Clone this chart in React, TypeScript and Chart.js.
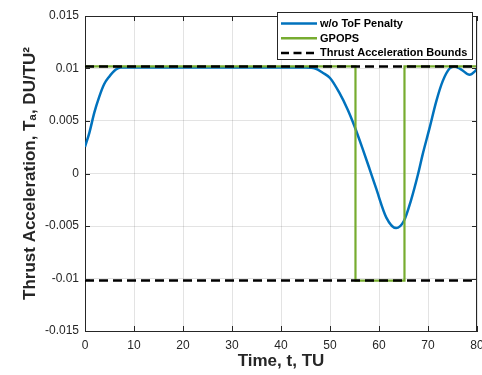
import React, { useEffect, useRef } from "react";
import { Chart, registerables } from "chart.js";

Chart.register(...registerables);

// ---- data ----
const timeNoPenalty = [0, 0.9, 1.9, 2.9, 3.9, 4.9, 6.3, 7.3, 9, 20, 40, 45, 47, 48.5, 50, 51.9, 53.6, 55, 56.7, 58.1, 59.4, 61.5, 63.5, 65.1, 66.5, 68.0, 68.9, 70.3, 71.7, 73.0, 74.4, 75.4, 76.8, 78.5, 79.5, 80];
const accelNoPenalty = [0.00254, 0.0039, 0.0058, 0.0073, 0.0085, 0.0092, 0.0099, 0.0101, 0.0101, 0.0101, 0.0101, 0.0101, 0.01, 0.0096, 0.0091, 0.0077, 0.0061, 0.0045, 0.0023, 0.0004, -0.0014, -0.0042, -0.0052, -0.0045, -0.0026, 0, 0.0018, 0.0043, 0.0069, 0.0088, 0.01, 0.0102, 0.0099, 0.0094, 0.0097, 0.01];

const timeGpops = [0, 55.2, 55.2, 65.2, 65.2, 80];
const accelGpops = [0.0102, 0.0102, -0.0102, -0.0102, 0.0102, 0.0102];

const boundTime = [0, 80];
const upperBound = [0.0102, 0.0102];
const lowerBound = [-0.0102, -0.0102];

const xTickValues = [0, 10, 20, 30, 40, 50, 60, 70, 80];
const xTickLabels = ["0", "10", "20", "30", "40", "50", "60", "70", "80"];
const yTickValues = [-0.015, -0.01, -0.005, 0, 0.005, 0.01, 0.015];
const yTickLabels = ["-0.015", "-0.01", "-0.005", "0", "0.005", "0.01", "0.015"];

const legendLabels = ["w/o ToF Penalty", "GPOPS", "Thrust Acceleration Bounds"];
const xTitle = "Time, t, TU";

const BLUE = "#0072BD";
const GREEN = "#77AC30";
const BLACK = "#000000";
const AXIS = "#262626";
const FONT = "'Liberation Sans', Arial, Helvetica, sans-serif";

const toPoints = (xs: number[], ys: number[]) => xs.map((x, i) => ({ x, y: ys[i] }));

const boxPlugin = {
  id: "matlabBox",
  afterDraw(chart: any) {
    const { ctx, chartArea } = chart;
    const { left, right, top, bottom } = chartArea;
    const xs = chart.scales.x;
    const ys = chart.scales.y;
    ctx.save();
    ctx.strokeStyle = AXIS;
    ctx.lineWidth = 1;
    // box
    ctx.beginPath();
    ctx.moveTo(left, top + 0.5);
    ctx.lineTo(right, top + 0.5);
    ctx.moveTo(right - 0.5, top);
    ctx.lineTo(right - 0.5, bottom);
    ctx.stroke();
    // inward ticks
    const tl = 5;
    ctx.beginPath();
    xTickValues.forEach((v) => {
      const px = Math.round(xs.getPixelForValue(v)) + 0.5;
      ctx.moveTo(px, bottom);
      ctx.lineTo(px, bottom - tl);
      ctx.moveTo(px, top);
      ctx.lineTo(px, top + tl);
    });
    yTickValues.forEach((v) => {
      const py = Math.round(ys.getPixelForValue(v)) + 0.5;
      ctx.moveTo(left, py);
      ctx.lineTo(left + tl, py);
      ctx.moveTo(right, py);
      ctx.lineTo(right - tl, py);
    });
    ctx.stroke();

    // legend
    const x0 = 277.5, y0 = 12.5, w = 195, h = 47;
    ctx.fillStyle = "#ffffff";
    ctx.fillRect(x0, y0, w, h);
    ctx.strokeStyle = AXIS;
    ctx.lineWidth = 1;
    ctx.strokeRect(x0, y0, w, h);
    const rows = [
      { color: BLUE, dash: [] as number[], width: 2.5 },
      { color: GREEN, dash: [] as number[], width: 2.5 },
      { color: BLACK, dash: [8, 4.5], width: 2.5 },
    ];
    ctx.font = `bold 11px ${FONT}`;
    ctx.textBaseline = "middle";
    ctx.textAlign = "left";
    rows.forEach((r, i) => {
      const yy = 23.5 + i * 14.7;
      ctx.beginPath();
      ctx.setLineDash(r.dash);
      ctx.strokeStyle = r.color;
      ctx.lineWidth = r.width;
      ctx.moveTo(281, yy);
      ctx.lineTo(317, yy);
      ctx.stroke();
      ctx.setLineDash([]);
      ctx.fillStyle = "#000000";
      ctx.fillText(legendLabels[i], 320, yy + 0.5);
    });
    ctx.restore();
  },
};

export default function App() {
  const ref = useRef<HTMLCanvasElement | null>(null);
  useEffect(() => {
    if (!ref.current) return;
    const chart = new Chart(ref.current, {
      type: "line",
      data: {
        datasets: [
          {
            label: legendLabels[0],
            data: toPoints(timeNoPenalty, accelNoPenalty),
            borderColor: BLUE,
            borderWidth: 2.5,
            pointRadius: 0,
            cubicInterpolationMode: "monotone",
            fill: false,
            order: 3,
          },
          {
            label: legendLabels[1],
            data: toPoints(timeGpops, accelGpops),
            borderColor: GREEN,
            borderWidth: 2.2,
            pointRadius: 0,
            tension: 0,
            fill: false,
            order: 2,
          },
          {
            label: legendLabels[2],
            data: toPoints(boundTime, upperBound),
            borderColor: BLACK,
            borderWidth: 2.5,
            borderDash: [9, 5],
            pointRadius: 0,
            fill: false,
            order: 1,
          },
          {
            label: legendLabels[2] + " (lower)",
            data: toPoints(boundTime, lowerBound),
            borderColor: BLACK,
            borderWidth: 2.5,
            borderDash: [9, 5],
            pointRadius: 0,
            fill: false,
            order: 1,
          },
        ],
      },
      options: {
        responsive: false,
        animation: false,
        devicePixelRatio: 1,
        layout: { padding: { left: 0, right: 5, top: 16, bottom: 0 } },
        plugins: { legend: { display: false }, tooltip: { enabled: false } },
        scales: {
          x: {
            type: "linear",
            min: 0,
            max: 80,
            afterBuildTicks: (s: any) => {
              s.ticks = xTickValues.map((v) => ({ value: v }));
            },
            afterFit: (s: any) => {
              s.height = 44;
              s.paddingLeft = 0;
              s.paddingRight = 0;
            },
            ticks: {
              color: AXIS,
              font: { family: FONT, size: 12 },
              padding: 7,
              maxRotation: 0,
              callback: (v: any) => {
                const i = xTickValues.indexOf(Number(v));
                return i >= 0 ? xTickLabels[i] : "";
              },
            },
            grid: { color: "rgba(38,38,38,0.13)", drawTicks: false, lineWidth: 1 },
            border: { color: AXIS, width: 1 },
            title: {
              display: true,
              text: xTitle,
              color: AXIS,
              font: { family: FONT, size: 17, weight: "bold" },
              padding: { top: 0, bottom: 3 },
            },
          },
          y: {
            type: "linear",
            min: -0.015,
            max: 0.015,
            afterBuildTicks: (s: any) => {
              s.ticks = yTickValues.map((v) => ({ value: v }));
            },
            afterFit: (s: any) => {
              s.width = 85;
              s.paddingTop = 0;
              s.paddingBottom = 0;
            },
            ticks: {
              color: AXIS,
              font: { family: FONT, size: 12 },
              padding: 6,
              callback: (v: any) => {
                let best = 0;
                yTickValues.forEach((t, i) => {
                  if (Math.abs(t - Number(v)) < Math.abs(yTickValues[best] - Number(v))) best = i;
                });
                return yTickLabels[best];
              },
            },
            grid: { color: "rgba(38,38,38,0.13)", drawTicks: false, lineWidth: 1 },
            border: { color: AXIS, width: 1 },
            title: {
              display: true,
              text: "Thrust Acceleration, Tₐ, DU/TU²",
              color: AXIS,
              font: { family: FONT, size: 17, weight: "bold" },
              padding: { top: 20, bottom: 0 },
            },
          },
        },
      },
      plugins: [boxPlugin],
    } as any);
    return () => chart.destroy();
  }, []);
  return (
    <div style={{ position: "absolute", left: 0, top: 0, width: 482, height: 375, background: "#fff" }}>
      <canvas ref={ref} width={482} height={375} />
    </div>
  );
}
